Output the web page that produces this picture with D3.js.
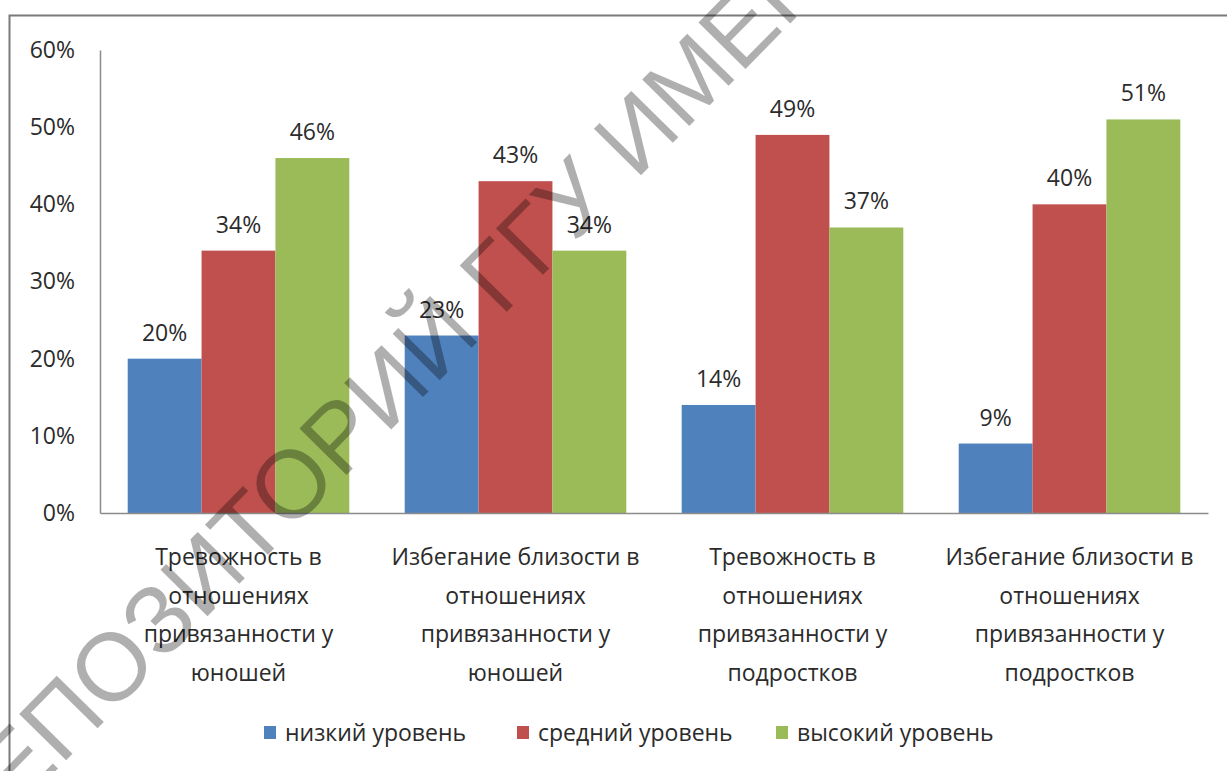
<!doctype html>
<html lang="ru">
<head>
<meta charset="utf-8">
<title>Тревожность и избегание близости</title>
<script src="https://cdnjs.cloudflare.com/ajax/libs/d3/7.8.5/d3.min.js"></script>
<style>
  body { margin: 0; background: #fff; }
  svg text { font-family: "Open Sans", "Noto Sans", sans-serif; fill: #2b2b2b; }
</style>
</head>
<body>
<svg width="1227" height="771" id="svg"></svg>
<script>
// data
var categories = [
  ['Тревожность в', 'отношениях', 'привязанности у', 'юношей'],
  ['Избегание близости в', 'отношениях', 'привязанности у', 'юношей'],
  ['Тревожность в', 'отношениях', 'привязанности у', 'подростков'],
  ['Избегание близости в', 'отношениях', 'привязанности у', 'подростков']
];
var seriesNames = ['низкий уровень', 'средний уровень', 'высокий уровень'];
var low = [0.20, 0.23, 0.14, 0.09];
var mid = [0.34, 0.43, 0.49, 0.40];
var high = [0.46, 0.34, 0.37, 0.51];
var yTicks = [0, 0.1, 0.2, 0.3, 0.4, 0.5, 0.6];
var colors = ['#4f81bd', '#c0504d', '#9bbb59'];
var watermark = 'РЕПОЗИТОРИЙ ГГУ ИМЕНИ Ф. СКОРИНЫ';

var series = [low, mid, high];

var svg = d3.select('#svg');

// frame
svg.append('path')
  .attr('d', 'M9.5,780 L9.5,15.5 L1240,15.5')
  .attr('fill', 'none')
  .attr('stroke', '#7a7a7a')
  .attr('stroke-width', 2);

var plotLeft = 100, plotRight = 1208, plotTop = 50, plotBottom = 513;

var x0 = d3.scaleBand()
  .domain(d3.range(categories.length))
  .range([plotLeft, plotRight])
  .paddingInner(0.2)
  .paddingOuter(0.1);

var x1 = d3.scaleBand()
  .domain(d3.range(series.length))
  .range([0, x0.bandwidth()]);

var y = d3.scaleLinear()
  .domain([0, 0.6])
  .range([plotBottom, plotTop]);

// bars
var groups = svg.selectAll('.grp')
  .data(categories)
  .enter()
  .append('g')
  .attr('class', 'grp')
  .attr('transform', function(d, i) { return 'translate(' + x0(i) + ',0)'; });

groups.selectAll('rect')
  .data(function(d, i) { return series.map(function(s, j) { return {s: j, v: s[i]}; }); })
  .enter()
  .append('rect')
  .attr('x', function(d) { return x1(d.s); })
  .attr('y', function(d) { return y(d.v); })
  .attr('width', x1.bandwidth())
  .attr('height', function(d) { return plotBottom - y(d.v); })
  .attr('fill', function(d) { return colors[d.s]; });

groups.selectAll('.val')
  .data(function(d, i) { return series.map(function(s, j) { return {s: j, v: s[i]}; }); })
  .enter()
  .append('text')
  .attr('class', 'val')
  .attr('x', function(d) { return x1(d.s) + x1.bandwidth() / 2; })
  .attr('y', function(d) { return y(d.v) - 18; })
  .attr('text-anchor', 'middle')
  .style('font-size', '23px')
  .text(function(d) { return d3.format('.0%')(d.v); });

// y axis
var yAxis = svg.append('g')
  .attr('transform', 'translate(' + plotLeft + ',0)')
  .call(d3.axisLeft(y).tickValues(yTicks).tickSize(0).tickSizeOuter(0).tickPadding(25).tickFormat(d3.format('.0%')));
yAxis.select('.domain').attr('stroke', '#8c8c8c').attr('stroke-width', 1.5);
yAxis.selectAll('text').style('font-size', '23px').attr('fill', '#2b2b2b');

// x axis
var xAxis = svg.append('g')
  .attr('transform', 'translate(0,' + plotBottom + ')')
  .call(d3.axisBottom(x0).tickSize(0).tickSizeOuter(0).tickFormat(''));
xAxis.select('.domain').attr('stroke', '#8c8c8c').attr('stroke-width', 1.5);

svg.selectAll('.cat')
  .data(categories)
  .enter()
  .append('text')
  .attr('class', 'cat')
  .attr('text-anchor', 'middle')
  .style('font-size', '23px')
  .each(function(lines, i) {
    var t = d3.select(this);
    lines.forEach(function(l, k) {
      t.append('tspan')
        .attr('x', x0(i) + x0.bandwidth() / 2)
        .attr('y', 565 + k * 38.5)
        .text(l);
    });
  });

// legend
var legendX = [264, 517, 776];
var leg = svg.selectAll('.leg')
  .data(seriesNames)
  .enter()
  .append('g')
  .attr('class', 'leg')
  .attr('transform', function(d, i) { return 'translate(' + legendX[i] + ',726)'; });
leg.append('rect')
  .attr('width', 12)
  .attr('height', 13)
  .attr('fill', function(d, i) { return colors[i]; });
leg.append('text')
  .attr('x', 21)
  .attr('y', 15)
  .style('font-size', '23px')
  .text(function(d) { return d; });

// watermark
svg.append('g')
  .attr('opacity', 0.31)
  .append('text')
  .attr('transform', 'translate(-29,857) rotate(-45.5)')
  .style('font-family', '"Liberation Sans", Arial, sans-serif')
  .style('font-size', '96px')
  .style('fill', '#000')
  .text(watermark);
</script>
</body>
</html>
